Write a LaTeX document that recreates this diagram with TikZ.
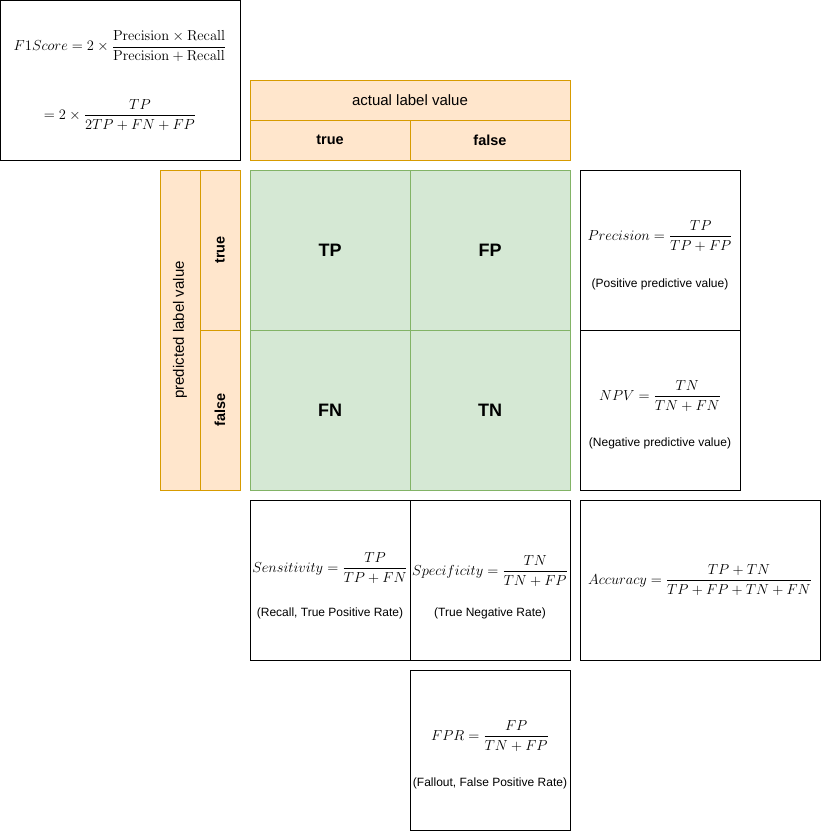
\RequirePackage{fix-cm}
\documentclass[tikz,border=0pt]{standalone}
\usepackage{amsmath}
\usepackage[no-math]{fontspec}
\setmainfont{Liberation Sans}
\usetikzlibrary{positioning}
\definecolor{orfill}{RGB}{255,230,204}
\definecolor{orline}{RGB}{215,155,0}
\definecolor{grfill}{RGB}{213,232,212}
\definecolor{grline}{RGB}{130,179,102}

\begin{document}
\begin{tikzpicture}[x=1pt, y=-1pt, outer sep=0pt,
  box/.style={draw, line width=1pt, minimum width=160pt, minimum height=160pt, inner sep=0pt},
  head/.style={draw=orline, fill=orfill, line width=1pt, inner sep=0pt, font=\fontsize{15}{18}\selectfont},
  headb/.style={head, font=\fontsize{14.5}{17}\selectfont\bfseries},
  cell/.style={draw=grline, fill=grfill, line width=1pt, minimum width=160pt, minimum height=160pt, inner sep=0pt, font=\fontsize{18}{22}\selectfont\bfseries},
  frm/.style={font=\fontsize{14.5}{17}\selectfont, inner sep=0pt},
  note/.style={font=\fontsize{12}{14}\selectfont, inner sep=0pt}]
  \useasboundingbox (0,0) rectangle (821,831);
  % confusion matrix
  \node[cell] (tp) at (330,250) {TP};
  \node[cell, right=0pt of tp] (fp) {FP};
  \node[cell, below=0pt of tp] (fn) {FN};
  \node[cell, right=0pt of fn] (tn) {TN};
  % actual label header
  \node[headb, minimum width=160pt, minimum height=40pt, above=10pt of tp] (acttrue) {true};
  \node[headb, minimum width=160pt, minimum height=40pt, above=10pt of fp] (actfalse) {false};
  \node[head, minimum width=320pt, minimum height=40pt, anchor=south west] (actual) at (acttrue.north west) {actual label value};
  % predicted label header
  \node[headb, minimum width=40pt, minimum height=160pt, left=10pt of tp] (predtrue) {\rotatebox{90}{true}};
  \node[headb, minimum width=40pt, minimum height=160pt, left=10pt of fn] (predfalse) {\rotatebox{90}{false}};
  \node[head, minimum width=40pt, minimum height=320pt, anchor=north east] (pred) at (predtrue.north west) {\rotatebox{90}{predicted label value}};
  % metric boxes
  \node[box, minimum width=240pt, anchor=north west] (fone) at (0,0) {};
  \node[box, right=10pt of fp] (prec) {};
  \node[box, right=10pt of tn] (npv) {};
  \node[box, below=10pt of fn] (sens) {};
  \node[box, below=10pt of tn] (spec) {};
  \node[box, minimum width=240pt, below right=10pt and 0pt of npv.south west] (acc) {};
  \node[box, below=10pt of spec] (fpr) {};
  % formulas
  \node[frm, yshift=34pt] (fonea) at (fone) {$\displaystyle F1Score = 2\times\frac{\mathrm{Precision}\times\mathrm{Recall}}{\mathrm{Precision}+\mathrm{Recall}}$};
  \node[frm, yshift=-35pt] (foneb) at (fone) {$\displaystyle = 2\times\frac{TP}{2TP+FN+FP}$};
  \node[frm, yshift=14pt] (precf) at (prec) {$\displaystyle Precision = \frac{TP}{TP+FP}$};
  \node[note, yshift=-34pt] (precn) at (prec) {(Positive predictive value)};
  \node[frm, yshift=14pt] (npvf) at (npv) {$\displaystyle NPV = \frac{TN}{TN+FN}$};
  \node[note, yshift=-33pt] (npvn) at (npv) {(Negative predictive value)};
  \node[frm, yshift=12pt] (sensf) at (sens) {$\displaystyle Sensitivity = \frac{TP}{TP+FN}$};
  \node[note, yshift=-33pt] (sensn) at (sens) {(Recall, True Positive Rate)};
  \node[frm, yshift=9pt] (specf) at (spec) {$\displaystyle Specificity = \frac{TN}{TN+FP}$};
  \node[note, yshift=-33pt] (specn) at (spec) {(True Negative Rate)};
  \node[frm] (accf) at (acc) {$\displaystyle Accuracy = \frac{TP+TN}{TP+FP+TN+FN}$};
  \node[frm, yshift=14pt] (fprf) at (fpr) {$\displaystyle FPR = \frac{FP}{TN+FP}$};
  \node[note, yshift=-33pt] (fprn) at (fpr) {(Fallout, False Positive Rate)};
\end{tikzpicture}
\end{document}
